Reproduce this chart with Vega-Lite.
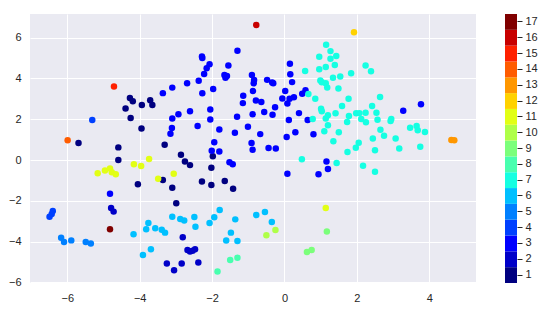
{
  "$schema": "https://vega.github.io/schema/vega-lite/v6.json",
  "padding": {"left": 8, "top": 14, "right": 5, "bottom": 5},
  "background": "white",
  "spacing": 29,
  "config": {
    "view": {"stroke": null},
    "axis": {"labelFont": "Liberation Sans", "labelFontSize": 11, "labelColor": "#262626", "domain": false, "ticks": false, "tickSize": 0, "gridColor": "white", "gridWidth": 1, "title": null}
  },
  "hconcat": [
    {
      "width": 446,
      "height": 269,
      "view": {"fill": "#EAEAF2", "stroke": null},
      "data": {"values": [
        {"x": -5.69, "y": 0.83, "c": 1}, {"x": -4.59, "y": 0.62, "c": 1}, {"x": -4.59, "y": 0.0, "c": 1}, {"x": -4.27, "y": 3.04, "c": 1},
        {"x": -4.19, "y": 2.88, "c": 1}, {"x": -4.39, "y": 2.53, "c": 1}, {"x": -4.25, "y": 2.06, "c": 1}, {"x": -3.94, "y": 2.70, "c": 1},
        {"x": -3.71, "y": 2.93, "c": 1}, {"x": -3.65, "y": 2.70, "c": 1}, {"x": -3.95, "y": 1.55, "c": 1}, {"x": -3.31, "y": 0.75, "c": 1},
        {"x": -4.05, "y": -1.19, "c": 1}, {"x": -3.36, "y": -0.98, "c": 1}, {"x": -3.10, "y": -1.36, "c": 1}, {"x": -2.99, "y": -2.12, "c": 1},
        {"x": -2.86, "y": 0.26, "c": 1}, {"x": -2.75, "y": -0.07, "c": 1}, {"x": -2.61, "y": -0.25, "c": 1}, {"x": -2.02, "y": -0.38, "c": 1},
        {"x": -1.98, "y": 0.18, "c": 1}, {"x": -2.28, "y": -1.05, "c": 1}, {"x": -2.02, "y": -1.23, "c": 1}, {"x": -1.65, "y": -1.03, "c": 1},
        {"x": -1.42, "y": -1.41, "c": 1},
        {"x": -4.79, "y": -2.35, "c": 2}, {"x": -4.72, "y": -2.53, "c": 2}, {"x": -2.81, "y": -3.79, "c": 2}, {"x": -2.68, "y": -4.41, "c": 2},
        {"x": -2.61, "y": -4.49, "c": 2}, {"x": -2.54, "y": -4.45, "c": 2}, {"x": -2.47, "y": -4.38, "c": 2}, {"x": -3.25, "y": -5.07, "c": 2},
        {"x": -3.05, "y": -5.41, "c": 2}, {"x": -2.84, "y": -5.07, "c": 2}, {"x": -2.38, "y": -5.03, "c": 2},
        {"x": -4.82, "y": -1.65, "c": 3}, {"x": -3.36, "y": 3.28, "c": 3}, {"x": -3.10, "y": 3.55, "c": 3}, {"x": -3.10, "y": 2.04, "c": 3},
        {"x": -3.11, "y": 1.57, "c": 3}, {"x": -3.15, "y": 1.29, "c": 3}, {"x": -2.93, "y": 2.25, "c": 3}, {"x": -2.69, "y": 3.76, "c": 3},
        {"x": -2.61, "y": 2.39, "c": 3}, {"x": -2.37, "y": 3.89, "c": 3}, {"x": -2.27, "y": 3.27, "c": 3}, {"x": -2.28, "y": 5.08, "c": 3},
        {"x": -2.27, "y": 5.00, "c": 3}, {"x": -2.22, "y": 4.22, "c": 3}, {"x": -2.15, "y": 4.50, "c": 3}, {"x": -2.07, "y": 4.70, "c": 3},
        {"x": -1.97, "y": 3.48, "c": 3}, {"x": -2.05, "y": 2.48, "c": 3}, {"x": -2.05, "y": 1.99, "c": 3}, {"x": -2.40, "y": 1.67, "c": 3},
        {"x": -1.80, "y": 1.50, "c": 3}, {"x": -1.94, "y": 0.87, "c": 3}, {"x": -2.01, "y": 0.45, "c": 3}, {"x": -1.80, "y": 0.42, "c": 3},
        {"x": -1.55, "y": 4.63, "c": 3}, {"x": -1.66, "y": 4.17, "c": 3}, {"x": -1.59, "y": 4.12, "c": 3}, {"x": -1.63, "y": 4.03, "c": 3},
        {"x": -1.30, "y": 5.36, "c": 3}, {"x": -1.14, "y": 3.15, "c": 3}, {"x": -1.15, "y": 2.79, "c": 3}, {"x": -1.31, "y": 2.12, "c": 3},
        {"x": -1.37, "y": 1.34, "c": 3}, {"x": -1.01, "y": 1.63, "c": 3}, {"x": -0.90, "y": 4.17, "c": 3}, {"x": -0.84, "y": 3.92, "c": 3},
        {"x": -0.85, "y": 3.76, "c": 3}, {"x": -0.87, "y": 3.38, "c": 3}, {"x": -0.79, "y": 2.92, "c": 3}, {"x": -0.88, "y": 2.24, "c": 3},
        {"x": -0.91, "y": 0.84, "c": 3}, {"x": -0.88, "y": 0.50, "c": 3}, {"x": -0.67, "y": 1.27, "c": 3}, {"x": -0.64, "y": 2.84, "c": 3},
        {"x": -0.56, "y": 2.35, "c": 3}, {"x": -0.48, "y": 3.93, "c": 3}, {"x": -0.34, "y": 3.80, "c": 3}, {"x": -0.31, "y": 3.76, "c": 3},
        {"x": -0.26, "y": 2.59, "c": 3}, {"x": -0.33, "y": 2.22, "c": 3}, {"x": -0.44, "y": 0.59, "c": 3}, {"x": -0.24, "y": 0.57, "c": 3},
        {"x": -0.06, "y": 3.02, "c": 3}, {"x": 0.15, "y": 4.72, "c": 3}, {"x": 0.16, "y": 4.21, "c": 3}, {"x": 0.21, "y": 3.82, "c": 3},
        {"x": 0.02, "y": 3.38, "c": 3}, {"x": 0.14, "y": 3.01, "c": 3}, {"x": 0.26, "y": 3.08, "c": 3}, {"x": 0.08, "y": 2.77, "c": 3},
        {"x": 0.49, "y": 3.25, "c": 3}, {"x": 0.58, "y": 3.42, "c": 3}, {"x": 0.40, "y": 2.30, "c": 3}, {"x": 0.12, "y": 1.96, "c": 3},
        {"x": 0.64, "y": 1.96, "c": 3}, {"x": 0.30, "y": 1.36, "c": 3}, {"x": 0.06, "y": 1.13, "c": 3}, {"x": 0.80, "y": 1.26, "c": 3},
        {"x": 3.28, "y": 2.42, "c": 3}, {"x": 3.77, "y": 2.73, "c": 3}, {"x": 1.16, "y": -0.07, "c": 3}, {"x": 1.20, "y": -0.44, "c": 3},
        {"x": 0.94, "y": -0.70, "c": 3}, {"x": 0.08, "y": -0.67, "c": 3}, {"x": -1.52, "y": -0.11, "c": 3}, {"x": -1.43, "y": -0.21, "c": 3},
        {"x": -5.31, "y": 1.96, "c": 4}, {"x": -6.40, "y": -2.50, "c": 4}, {"x": -6.43, "y": -2.65, "c": 4}, {"x": -6.49, "y": -2.78, "c": 4},
        {"x": -6.17, "y": -3.81, "c": 5}, {"x": -6.09, "y": -4.02, "c": 5}, {"x": -5.89, "y": -3.94, "c": 5}, {"x": -5.49, "y": -4.02, "c": 5},
        {"x": -5.35, "y": -4.09, "c": 5},
        {"x": -3.76, "y": -3.09, "c": 6}, {"x": -3.82, "y": -3.40, "c": 6}, {"x": -3.57, "y": -3.35, "c": 6}, {"x": -3.39, "y": -3.42, "c": 6},
        {"x": -3.30, "y": -3.56, "c": 6}, {"x": -4.17, "y": -3.64, "c": 6}, {"x": -3.69, "y": -4.38, "c": 6}, {"x": -3.91, "y": -4.66, "c": 6},
        {"x": -3.10, "y": -2.78, "c": 6}, {"x": -2.88, "y": -2.89, "c": 6}, {"x": -2.77, "y": -2.97, "c": 6}, {"x": -2.49, "y": -2.79, "c": 6},
        {"x": -2.46, "y": -3.27, "c": 6}, {"x": -2.07, "y": -3.09, "c": 6}, {"x": -1.94, "y": -2.81, "c": 6}, {"x": -1.79, "y": -2.45, "c": 6},
        {"x": -1.36, "y": -2.91, "c": 6}, {"x": -1.48, "y": -3.56, "c": 6}, {"x": -1.61, "y": -3.95, "c": 6}, {"x": -1.30, "y": -3.97, "c": 6},
        {"x": -0.78, "y": -2.70, "c": 6}, {"x": -0.54, "y": -2.55, "c": 6}, {"x": -0.35, "y": -3.04, "c": 6},
        {"x": 1.15, "y": 5.65, "c": 7}, {"x": 1.27, "y": 5.34, "c": 7}, {"x": 1.43, "y": 5.10, "c": 7}, {"x": 1.27, "y": 4.97, "c": 7},
        {"x": 0.96, "y": 5.06, "c": 7}, {"x": 1.39, "y": 4.66, "c": 7}, {"x": 1.14, "y": 4.56, "c": 7}, {"x": 0.96, "y": 4.45, "c": 7},
        {"x": 0.57, "y": 4.36, "c": 7}, {"x": 2.24, "y": 4.64, "c": 7}, {"x": 2.39, "y": 4.35, "c": 7}, {"x": 1.84, "y": 4.25, "c": 7},
        {"x": 1.54, "y": 4.10, "c": 7}, {"x": 1.34, "y": 4.03, "c": 7}, {"x": 0.99, "y": 3.90, "c": 7}, {"x": 1.03, "y": 3.81, "c": 7},
        {"x": 1.14, "y": 3.77, "c": 7}, {"x": 1.18, "y": 3.56, "c": 7}, {"x": 1.49, "y": 3.51, "c": 7}, {"x": 0.66, "y": 3.24, "c": 7},
        {"x": 0.85, "y": 3.01, "c": 7}, {"x": 1.77, "y": 3.01, "c": 7}, {"x": 2.64, "y": 3.09, "c": 7}, {"x": 1.59, "y": 2.65, "c": 7},
        {"x": 1.01, "y": 2.51, "c": 7}, {"x": 1.03, "y": 2.39, "c": 7}, {"x": 1.41, "y": 2.29, "c": 7}, {"x": 1.20, "y": 2.19, "c": 7},
        {"x": 1.14, "y": 2.04, "c": 7}, {"x": 0.78, "y": 2.01, "c": 7}, {"x": 1.78, "y": 2.16, "c": 7}, {"x": 1.73, "y": 1.86, "c": 7},
        {"x": 1.98, "y": 2.29, "c": 7}, {"x": 2.07, "y": 2.30, "c": 7}, {"x": 2.24, "y": 2.32, "c": 7}, {"x": 2.42, "y": 2.65, "c": 7},
        {"x": 2.54, "y": 2.32, "c": 7}, {"x": 2.12, "y": 2.01, "c": 7}, {"x": 2.25, "y": 1.85, "c": 7}, {"x": 2.57, "y": 1.98, "c": 7},
        {"x": 2.95, "y": 2.01, "c": 7}, {"x": 2.93, "y": 1.91, "c": 7}, {"x": 1.20, "y": 1.70, "c": 7}, {"x": 1.10, "y": 1.41, "c": 7},
        {"x": 1.50, "y": 1.36, "c": 7}, {"x": 2.65, "y": 1.49, "c": 7}, {"x": 2.75, "y": 1.19, "c": 7}, {"x": 2.44, "y": 1.06, "c": 7},
        {"x": 3.07, "y": 1.06, "c": 7}, {"x": 3.47, "y": 1.58, "c": 7}, {"x": 3.65, "y": 1.67, "c": 7}, {"x": 3.68, "y": 1.46, "c": 7},
        {"x": 3.88, "y": 1.37, "c": 7}, {"x": 3.17, "y": 0.57, "c": 7}, {"x": 3.75, "y": 0.65, "c": 7}, {"x": 1.35, "y": 0.92, "c": 7},
        {"x": 1.74, "y": 0.39, "c": 7}, {"x": 1.97, "y": 0.60, "c": 7}, {"x": 2.05, "y": 0.85, "c": 7}, {"x": 2.50, "y": 0.48, "c": 7},
        {"x": 0.48, "y": 0.04, "c": 7}, {"x": 1.44, "y": -0.15, "c": 7}, {"x": 2.17, "y": -0.28, "c": 7}, {"x": 2.50, "y": -0.57, "c": 7},
        {"x": -1.50, "y": -4.90, "c": 8}, {"x": -1.30, "y": -4.79, "c": 8}, {"x": -1.85, "y": -5.47, "c": 8},
        {"x": 1.17, "y": -3.51, "c": 9}, {"x": 0.62, "y": -4.51, "c": 9}, {"x": 0.75, "y": -4.41, "c": 9},
        {"x": -0.50, "y": -3.69, "c": 10}, {"x": -0.25, "y": -3.43, "c": 10},
        {"x": -5.16, "y": -0.65, "c": 11}, {"x": -4.96, "y": -0.51, "c": 11}, {"x": -4.82, "y": -0.41, "c": 11}, {"x": -4.77, "y": -0.60, "c": 11},
        {"x": -4.66, "y": -0.70, "c": 11}, {"x": -4.16, "y": -0.21, "c": 11}, {"x": -3.96, "y": -0.29, "c": 11}, {"x": -3.74, "y": 0.05, "c": 11},
        {"x": -3.49, "y": -0.92, "c": 11}, {"x": -3.06, "y": -0.67, "c": 11}, {"x": 1.14, "y": -2.35, "c": 11},
        {"x": 1.92, "y": 6.26, "c": 12},
        {"x": 4.61, "y": 0.98, "c": 13}, {"x": 4.69, "y": 0.97, "c": 13},
        {"x": -5.99, "y": 0.97, "c": 14},
        {"x": -4.71, "y": 3.61, "c": 15},
        {"x": -0.78, "y": 6.62, "c": 16},
        {"x": -4.82, "y": -3.40, "c": 17}
      ]},
      "mark": {"type": "circle", "size": 42, "opacity": 1},
      "encoding": {
        "x": {"field": "x", "type": "quantitative", "scale": {"domain": [-7.03, 5.29], "nice": false, "zero": false},
              "axis": {"values": [-6, -4, -2, 0, 2, 4], "labelPadding": 9}},
        "y": {"field": "y", "type": "quantitative", "scale": {"domain": [-6.03, 7.16], "nice": false, "zero": false},
              "axis": {"values": [-6, -4, -2, 0, 2, 4, 6], "labelPadding": 9}},
        "color": {"field": "c", "type": "ordinal",
                  "scale": {"domain": [1,2,3,4,5,6,7,8,9,10,11,12,13,14,15,16,17],
                            "range": ["#000080","#0000c8","#0000ff","#0040ff","#0080ff","#00c0ff","#15ffe2","#48ffaf","#7bff7b","#afff48","#e2ff15","#ffd200","#ff9700","#ff5c00","#ff2100","#c80000","#800000"]},
                  "legend": null}
      }
    },
    {
      "width": 12,
      "height": 269,
      "data": {"values": [
        {"c": 1}, {"c": 2}, {"c": 3}, {"c": 4}, {"c": 5}, {"c": 6}, {"c": 7}, {"c": 8}, {"c": 9},
        {"c": 10}, {"c": 11}, {"c": 12}, {"c": 13}, {"c": 14}, {"c": 15}, {"c": 16}, {"c": 17}
      ]},
      "mark": {"type": "rect"},
      "encoding": {
        "y": {"field": "c", "type": "ordinal", "sort": "descending",
              "scale": {"paddingInner": 0, "paddingOuter": 0},
              "axis": {"orient": "right", "ticks": true, "tickSize": 5, "tickColor": "#262626", "tickWidth": 1, "grid": false, "labelPadding": 3, "labelAngle": 0}},
        "color": {"field": "c", "type": "ordinal", "legend": null}
      }
    }
  ]
}
